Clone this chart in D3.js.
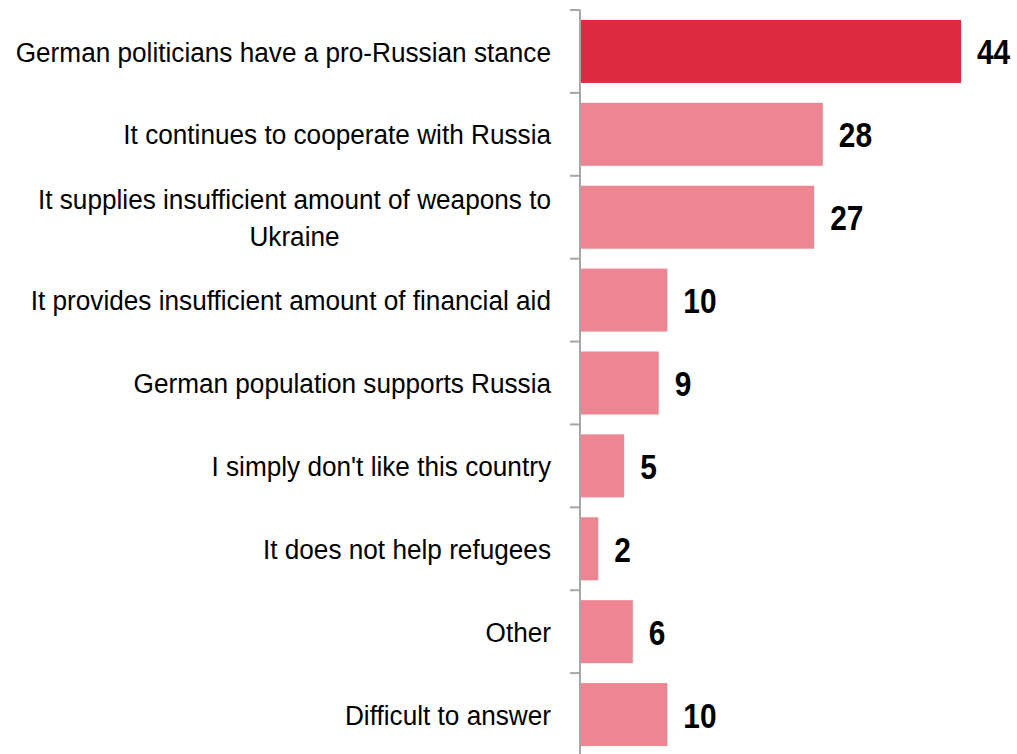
<!DOCTYPE html>
<html>
<head>
<meta charset="utf-8">
<script src="https://cdn.jsdelivr.net/npm/d3@7"></script>
<style>
  body { margin: 0; background: #fff; }
  svg { display: block; }
</style>
</head>
<body>
<svg id="chart" width="1017" height="754"></svg>
<script>
// answers, top to bottom
var categories = [
  "German politicians have a pro-Russian stance",
  "It continues to cooperate with Russia",
  "It supplies insufficient amount of weapons to\nUkraine",
  "It provides insufficient amount of financial aid",
  "German population supports Russia",
  "I simply don't like this country",
  "It does not help refugees",
  "Other",
  "Difficult to answer"
];
var values = [44, 28, 27, 10, 9, 5, 2, 6, 10];

var svg = d3.select("#chart");
var axisX = 580;

var x = d3.scaleLinear().domain([0, 44]).range([axisX + 1, 961]);
var y = d3.scaleBand().domain(categories).range([10, 756]).paddingInner(0.24).paddingOuter(0.12);

// bars
svg.append("g")
  .selectAll("rect")
  .data(values)
  .enter()
  .append("rect")
  .attr("x", x(0))
  .attr("y", function (d, i) { return y(categories[i]); })
  .attr("width", function (d) { return x(d) - x(0); })
  .attr("height", y.bandwidth())
  .attr("fill", function (d, i) { return i == 0 ? "#e02943" : "#ee8593"; });

// value labels (narrow bold look)
svg.append("g")
  .selectAll("text")
  .data(values)
  .enter()
  .append("text")
  .attr("transform", function (d, i) {
    return "translate(" + (x(d) + 16) + "," + (y(categories[i]) + y.bandwidth() / 2) + ") scale(0.83,1)";
  })
  .attr("dy", "0.36em")
  .style("font-family", "'Liberation Sans', Arial, sans-serif")
  .style("font-weight", "bold")
  .style("font-size", "36px")
  .attr("fill", "#000")
  .text(function (d) { return d; });

// axis line + ticks between categories
var ax = svg.append("g").attr("stroke", "#a6a6a6").attr("stroke-width", 2);
ax.append("line").attr("x1", axisX).attr("x2", axisX).attr("y1", 10).attr("y2", 754);
var step = y.step();
d3.range(categories.length).forEach(function (i) {
  var ty = y(categories[i]) - (step - y.bandwidth()) / 2;
  ax.append("line").attr("x1", axisX - 10).attr("x2", axisX).attr("y1", ty).attr("y2", ty);
});

// category labels, squeezed horizontally like the original
var labels = svg.append("g")
  .attr("transform", "translate(551,0) scale(0.935,1)")
  .style("font-family", "'Liberation Sans', Arial, sans-serif")
  .style("font-size", "28px")
  .attr("fill", "#000");
categories.forEach(function (c, i) {
  var lines = c.split("\n");
  var cy = y(c) + y.bandwidth() / 2;
  var lh = 37;
  var t = labels.append("text").attr("text-anchor", "end");
  var first = t.append("tspan")
    .attr("x", 0)
    .attr("y", cy - (lines.length - 1) * lh / 2)
    .attr("dy", "0.36em")
    .text(lines[0]);
  if (lines.length > 1) {
    // second line centred under the first
    var w = first.node().getComputedTextLength();
    t.append("tspan")
      .attr("text-anchor", "middle")
      .attr("x", -w / 2)
      .attr("y", cy + lh / 2)
      .attr("dy", "0.36em")
      .text(lines[1]);
  }
});
</script>
</body>
</html>
